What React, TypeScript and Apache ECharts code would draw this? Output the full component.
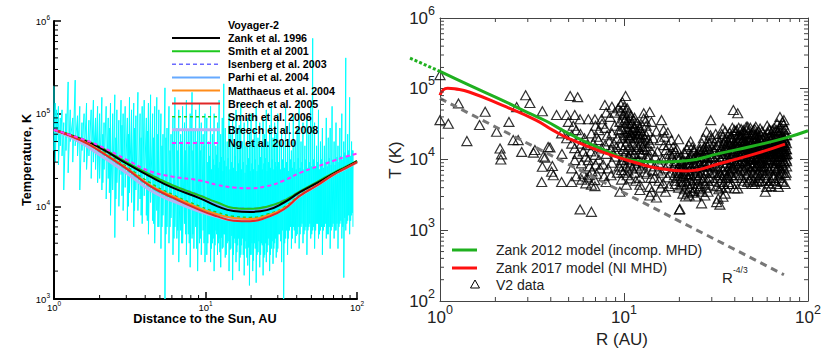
import React, { useEffect, useRef } from "react";
import * as echarts from "echarts";

// ---------------- Left panel data ----------------
// Voyager-2 temperature record: [R (AU), upper T (K), lower T (K)] per distance bin
const V2_BINS: number[][] = [
  [1.0, 2.0e5, 4.0e4], [1.02, 1.3e5, 3.0e4], [1.04, 1.1e5, 5.0e4], [1.07, 1.2e5, 2.8e4],
  [1.1, 9.0e4, 4.5e4], [1.13, 1.1e5, 3.5e4], [1.16, 8.0e4, 1.5e4], [1.2, 1.0e5, 4.0e4],
  [1.24, 2.2e5, 2.3e4], [1.28, 1.1e5, 5.0e4], [1.33, 9.0e4, 3.0e4], [1.38, 2.3e5, 4.5e4],
  [1.43, 9.5e4, 3.5e4], [1.48, 1.2e5, 1.5e4], [1.53, 8.0e4, 4.0e4], [1.58, 1.0e5, 3.0e4],
  [1.64, 1.3e5, 2.5e4], [1.7, 8.5e4, 3.5e4], [1.76, 1.1e5, 2.0e4], [1.82, 1.4e5, 3.0e4],
  [1.88, 9.0e4, 2.5e4], [1.94, 1.2e5, 1.8e4],
  [2.0, 1.0e5, 2.0e4], [2.07, 1.5e5, 1.5e4], [2.14, 8.0e4, 2.5e4], [2.21, 1.2e5, 1.2e4],
  [2.28, 9.0e4, 2.0e4], [2.36, 1.3e5, 8.0e3], [2.44, 1.0e5, 1.5e4], [2.52, 1.6e5, 4.6e3],
  [2.6, 1.1e5, 1.8e4], [2.68, 8.5e4, 1.0e4], [2.77, 1.4e5, 2.2e4], [2.86, 1.0e5, 9.0e3],
  [2.95, 1.2e5, 1.6e4], [3.05, 9.0e4, 7.0e3], [3.15, 1.5e5, 1.4e4], [3.25, 1.1e5, 1.1e4],
  [3.36, 1.3e5, 6.0e3], [3.47, 9.5e4, 1.5e4], [3.58, 1.7e5, 9.0e3], [3.7, 1.0e5, 1.2e4],
  [3.82, 1.2e5, 6.5e3], [3.94, 1.4e5, 1.3e4], [4.07, 9.0e4, 8.0e3], [4.2, 1.3e5, 5.0e3],
  [4.34, 1.6e5, 1.1e4], [4.48, 1.0e5, 7.0e3], [4.62, 1.2e5, 4.0e3], [4.77, 1.5e5, 9.0e3],
  [4.92, 1.1e5, 6.0e3],
  [5.08, 1.0e5, 3.5e3], [5.24, 6.0e4, 8.0e3], [5.4, 1.9e5, 1.0e3], [5.57, 7.0e4, 6.0e3],
  [5.74, 1.2e5, 4.0e3], [5.92, 6.0e4, 7.5e3], [6.1, 9.0e4, 3.0e3], [6.28, 1.5e5, 6.0e3],
  [6.47, 7.0e4, 4.5e3], [6.66, 1.1e5, 2.5e3], [6.86, 6.0e4, 5.5e3], [7.06, 1.2e5, 4.0e3],
  [7.27, 8.0e4, 6.5e3], [7.48, 1.4e5, 3.0e3], [7.7, 6.5e4, 5.0e3], [7.92, 1.0e5, 2.2e3],
  [8.15, 1.7e5, 4.5e3], [8.38, 7.0e4, 3.5e3], [8.62, 1.1e5, 6.0e3], [8.87, 6.5e4, 2.0e3],
  [9.12, 1.3e5, 4.0e3], [9.38, 8.0e4, 3.0e3], [9.65, 6.0e4, 5.5e3], [9.92, 1.0e5, 2.5e3],
  [10.2, 9.0e4, 3.0e3], [10.5, 5.0e4, 5.0e3], [10.8, 1.2e5, 2.5e3], [11.1, 6.0e4, 4.0e3],
  [11.4, 1.0e5, 2.0e3], [11.7, 4.5e4, 5.5e3], [12.0, 8.0e4, 3.0e3], [12.3, 1.4e5, 4.5e3],
  [12.6, 6.0e4, 2.2e3], [12.9, 9.0e4, 3.5e3], [13.2, 2.1e5, 5.0e3], [13.5, 7.0e4, 2.8e3],
  [13.9, 5.0e4, 4.0e3], [14.3, 1.0e5, 2.0e3], [14.7, 6.0e4, 3.5e3], [15.1, 8.5e4, 1.6e3],
  [15.5, 4.5e4, 4.5e3], [15.9, 1.1e5, 2.5e3], [16.3, 6.0e4, 3.8e3], [16.7, 7.5e4, 2.0e3],
  [17.1, 1.3e5, 3.0e3], [17.5, 5.0e4, 4.5e3], [18.0, 8.0e4, 1.8e3], [18.5, 4.5e4, 3.5e3],
  [19.0, 9.0e4, 2.3e3], [19.5, 6.0e4, 1.4e3], [20.0, 1.0e5, 3.0e3], [20.5, 5.0e4, 2.0e3],
  [21.0, 7.0e4, 4.0e3], [21.6, 1.2e5, 1.5e3], [22.2, 5.5e4, 3.2e3], [22.8, 8.0e4, 2.2e3],
  [23.4, 4.5e4, 4.0e3], [24.0, 9.0e4, 1.8e3], [24.6, 6.0e4, 3.0e3], [25.2, 1.1e5, 2.5e3],
  [25.8, 5.0e4, 3.8e3], [26.5, 7.5e4, 2.0e3], [27.2, 1.3e5, 3.5e3], [27.9, 5.5e4, 2.4e3],
  [28.6, 8.0e4, 4.0e3], [29.3, 6.0e4, 2.8e3],
  [30.0, 1.0e5, 3.5e3], [30.9, 5.0e4, 5.0e3], [31.8, 7.0e4, 2.5e3], [32.8, 4.5e4, 1.0e3],
  [33.8, 1.2e5, 4.5e3], [34.8, 5.0e4, 3.0e3], [35.8, 8.0e4, 5.5e3], [36.9, 4.0e4, 3.5e3],
  [38.0, 1.0e5, 6.0e3], [39.1, 5.0e4, 4.0e3], [40.3, 7.0e4, 5.0e3], [41.5, 1.4e5, 3.5e3],
  [42.7, 5.0e4, 6.0e3], [44.0, 8.0e4, 4.0e3], [45.3, 4.5e4, 5.5e3], [46.7, 9.0e4, 3.0e3],
  [48.1, 6.0e4, 6.0e3], [49.5, 1.2e5, 4.5e3], [51.0, 6.5e5, 5.5e3], [52.5, 8.0e4, 3.5e3],
  [54.1, 4.5e4, 6.5e3], [55.7, 1.1e5, 4.5e3], [57.4, 5.0e4, 5.5e3], [59.1, 7.0e4, 3.0e3],
  [60.9, 4.5e4, 6.0e3], [62.7, 9.0e4, 4.5e3], [64.6, 5.5e4, 5.0e3], [66.5, 7.0e4, 3.5e3],
  [68.5, 1.2e5, 6.0e3], [70.6, 5.0e4, 4.5e3], [72.7, 8.0e4, 5.5e3], [74.9, 4.5e4, 3.5e3],
  [77.1, 7.0e4, 6.5e3], [79.4, 1.0e5, 4.5e3], [81.8, 5.0e4, 1.7e3], [84.3, 4.0e5, 5.5e3],
  [86.8, 6.0e4, 7.0e3], [89.4, 1.5e5, 5.0e3], [92.1, 5.0e4, 8.0e3], [94.0, 4.0e4, 6.0e3],
];
// further Voyager-2 bins (the dense core of the record)
const V2_BINS_CORE: number[][] = [
  [2.1, 6.0e4, 1.8e4], [2.32, 7.0e4, 1.4e4], [2.56, 5.5e4, 1.2e4], [2.81, 7.5e4, 1.3e4],
  [3.1, 6.0e4, 1.0e4], [3.4, 7.0e4, 9.0e3], [3.76, 5.5e4, 8.0e3], [4.13, 6.5e4, 7.0e3],
  [4.55, 5.5e4, 6.5e3], [4.85, 6.0e4, 6.0e3],
  [5.16, 4.5e4, 6.0e3], [5.48, 5.5e4, 5.0e3], [5.83, 4.0e4, 6.0e3], [6.19, 5.0e4, 4.5e3],
  [6.56, 4.0e4, 5.5e3], [6.96, 5.0e4, 4.0e3], [7.38, 4.0e4, 5.0e3], [7.81, 4.5e4, 4.0e3],
  [8.26, 4.0e4, 5.0e3], [8.74, 5.0e4, 3.5e3], [9.25, 4.0e4, 4.5e3], [9.78, 4.5e4, 4.0e3],
  [10.35, 3.0e4, 4.0e3], [10.65, 3.5e4, 5.0e3], [10.95, 2.5e4, 3.5e3], [11.25, 3.2e4, 4.5e3],
  [11.55, 2.8e4, 3.8e3], [11.85, 3.6e4, 5.0e3], [12.15, 2.6e4, 4.0e3], [12.45, 3.0e4, 3.2e3],
  [12.75, 3.4e4, 4.6e3], [13.05, 2.4e4, 3.6e3], [13.35, 3.1e4, 5.0e3], [13.7, 2.7e4, 3.0e3],
  [14.1, 3.3e4, 4.2e3], [14.5, 2.5e4, 3.4e3], [14.9, 3.0e4, 4.8e3], [15.3, 2.6e4, 3.0e3],
  [15.7, 3.5e4, 4.0e3], [16.1, 2.4e4, 3.2e3], [16.5, 2.9e4, 4.5e3], [16.9, 3.2e4, 2.8e3],
  [17.3, 2.5e4, 3.8e3], [17.75, 3.0e4, 3.0e3], [18.25, 2.3e4, 4.2e3], [18.75, 2.8e4, 2.8e3],
  [19.25, 3.3e4, 3.6e3], [19.75, 2.4e4, 3.0e3], [20.25, 2.9e4, 4.0e3], [20.75, 2.5e4, 2.6e3],
  [21.3, 3.2e4, 3.5e3], [21.9, 2.4e4, 3.0e3], [22.5, 2.8e4, 4.2e3], [23.1, 3.4e4, 3.0e3],
  [23.7, 2.5e4, 3.8e3], [24.3, 2.9e4, 2.8e3], [24.9, 3.3e4, 4.0e3], [25.5, 2.4e4, 3.2e3],
  [26.15, 3.0e4, 4.5e3], [26.85, 2.6e4, 3.0e3], [27.55, 3.2e4, 4.2e3], [28.25, 2.5e4, 3.5e3],
  [28.95, 3.0e4, 4.5e3], [29.65, 2.7e4, 3.2e3],
  [30.45, 3.0e4, 5.0e3], [31.35, 2.5e4, 4.2e3], [32.3, 3.2e4, 5.5e3], [33.3, 2.6e4, 4.0e3],
  [34.3, 3.0e4, 5.5e3], [35.3, 2.4e4, 4.5e3], [36.35, 3.2e4, 6.0e3], [37.45, 2.6e4, 4.5e3],
  [38.55, 3.0e4, 5.5e3], [39.7, 2.5e4, 4.8e3], [40.9, 3.3e4, 6.0e3], [42.1, 2.6e4, 5.0e3],
  [43.35, 3.0e4, 6.5e3], [44.65, 2.5e4, 5.0e3], [46.0, 3.2e4, 6.0e3], [47.4, 2.6e4, 5.5e3],
  [48.8, 3.0e4, 6.5e3], [50.25, 2.7e4, 5.0e3], [51.75, 3.2e4, 6.0e3], [53.3, 2.6e4, 5.5e3],
  [54.9, 3.0e4, 6.5e3], [56.55, 2.5e4, 5.0e3], [58.25, 3.2e4, 6.0e3], [60.0, 2.6e4, 5.5e3],
  [61.8, 3.0e4, 6.5e3], [63.65, 2.7e4, 5.0e3], [65.55, 3.3e4, 6.0e3], [67.5, 2.8e4, 5.5e3],
  [69.55, 3.2e4, 6.5e3], [71.65, 2.8e4, 5.5e3], [73.8, 3.4e4, 6.5e3], [76.0, 3.0e4, 6.0e3],
  [78.25, 3.5e4, 7.0e3], [80.6, 3.2e4, 6.0e3], [83.05, 3.8e4, 7.5e3], [85.55, 3.4e4, 6.5e3],
  [88.1, 4.0e4, 8.0e3], [90.75, 3.5e4, 7.0e3], [93.0, 4.0e4, 8.5e3],
];

const MODEL_R = [1, 1.5, 2, 3, 4.3, 6, 9.2, 12, 15.3, 19.7, 25.4, 33, 42, 55, 70, 85, 100];
const ZANK_1996 = [6.7e4, 5.3e4, 4.3e4, 2.9e4, 2.1e4, 1.6e4, 1.22e4, 1.0e4, 8.9e3, 8.7e3, 9.1e3, 1.1e4, 1.42e4, 1.8e4, 2.25e4, 2.65e4, 3.05e4];
const SMITH_2001 = [6.7e4, 5.4e4, 4.4e4, 3.0e4, 2.2e4, 1.7e4, 1.3e4, 1.1e4, 9.6e3, 9.4e3, 9.9e3, 1.15e4, 1.45e4, 1.85e4, 2.3e4, 2.7e4, 3.1e4];
const ISENBERG_2003 = [6.7e4, 5.4e4, 4.4e4, 3.0e4, 2.25e4, 1.72e4, 1.32e4, 1.1e4, 9.7e3, 9.5e3, 1.0e4, 1.17e4, 1.46e4, 1.85e4, 2.3e4, 2.7e4, 3.1e4];
const PARHI_2004 = [6.7e4, 5.35e4, 4.35e4, 2.95e4, 2.15e4, 1.65e4, 1.25e4, 1.05e4, 9.2e3, 9.0e3, 9.5e3, 1.12e4, 1.43e4, 1.82e4, 2.28e4, 2.68e4, 3.08e4];
const MATTHAEUS_2004 = [6.7e4, 5.2e4, 4.0e4, 2.6e4, 1.7e4, 1.3e4, 9.5e3, 8.2e3, 7.5e3, 7.3e3, 7.9e3, 9.5e3, 1.3e4, 1.7e4, 2.2e4, 2.6e4, 3.0e4];
const BREECH_2005 = [6.7e4, 5.15e4, 3.95e4, 2.55e4, 1.65e4, 1.25e4, 9.1e3, 7.8e3, 7.0e3, 6.9e3, 7.6e3, 9.3e3, 1.3e4, 1.7e4, 2.2e4, 2.6e4, 3.0e4];
const SMITH_2006 = [6.7e4, 5.2e4, 4.1e4, 2.7e4, 1.8e4, 1.35e4, 1.0e4, 8.6e3, 7.8e3, 7.6e3, 8.2e3, 9.8e3, 1.33e4, 1.72e4, 2.2e4, 2.6e4, 3.0e4];
const BREECH_2008 = [6.7e4, 4.9e4, 3.6e4, 2.3e4, 1.5e4, 1.15e4, 8.8e3, 7.7e3, 7.1e3, 7.0e3, 7.7e3, 9.4e3, 1.3e4, 1.7e4, 2.2e4, 2.6e4, 3.0e4];
const NG_2010 = [6.7e4, 5.4e4, 4.5e4, 3.2e4, 2.4e4, 2.1e4, 1.9e4, 1.7e4, 1.6e4, 1.57e4, 1.65e4, 1.9e4, 2.3e4, 2.7e4, 3.1e4, 3.45e4, 3.7e4];

const LEFT_NAMES = [
  "Zank et al. 1996", "Smith et al 2001", "Isenberg et al. 2003", "Parhi et al. 2004",
  "Matthaeus et al. 2004", "Breech et al. 2005", "Smith et al. 2006", "Breech et al. 2008", "Ng et al. 2010",
];
const LEFT_MODELS = [ZANK_1996, SMITH_2001, ISENBERG_2003, PARHI_2004, MATTHAEUS_2004, BREECH_2005, SMITH_2006, BREECH_2008, NG_2010];

// ---------------- Right panel data ----------------
const V2_POINTS: number[][] = [
  [1.0, 1.56e5], [1.0, 3.6e4], [1.11, 3.2e4], [1.26, 6.2e4], [1.4, 1.82e4], [1.64, 3.07e4], [1.76, 4.73e4],
  [2.03, 2.47e4], [2.12, 1.43e4], [2.16, 1.18e4], [2.14, 1.0e4], [2.37, 3.4e4], [2.5, 1.88e4], [2.66, 1.88e4],
  [2.78, 1.28e4], [2.92, 8.1e4], [3.08, 6.3e4], [2.61, 5.5e4], [3.22, 1.25e4], [3.28, 1.36e4], [3.6, 4.8e4],
  [3.72, 1.06e4], [3.96, 1.48e4], [4.08, 8.1e3], [4.04, 6.7e3], [4.13, 6.0e3], [4.3, 4.25e4], [3.57, 4.8e3],
  [4.58, 4.8e3], [5.2, 4.8e3], [5.1, 7.9e4], [5.6, 7.6e4], [4.88, 4.25e4], [5.4, 4.25e4], [5.77, 3.7e4],
  [4.98, 3.4e4], [6.4, 3.7e4], [6.95, 3.7e4], [7.55, 3.7e4], [7.87, 5.9e4], [8.6, 5.56e4], [9.3, 5.3e4],
  [10.2, 7.9e4], [4.58, 2.34e4], [4.88, 2.0e4], [5.2, 2.2e4], [5.87, 1.68e4], [6.65, 2.34e4], [7.27, 1.88e4],
  [7.55, 1.43e4], [6.95, 1.16e4], [6.4, 9.8e3], [5.87, 8.8e3], [5.4, 9.8e3], [5.2, 7.5e3], [6.0, 6.3e3],
  [6.5, 6.0e3], [6.95, 5.1e3], [6.65, 4.4e3], [6.95, 4.2e3], [5.77, 1.97e3], [6.65, 1.82e3], [9.5, 3.5e3],
  [9.7, 5.2e3], [10.3, 4.4e3], [9.7, 9.8e3], [9.1, 1.5e4], [8.6, 2.34e4], [10.6, 2.1e4], [10.1, 3.6e4],
  [11.0, 1.36e4], [9.7, 7.1e3], [3.64, 1.1e4], [3.87, 1.5e4], [3.6, 7.9e3], [4.6, 1.2e4], [5.2, 1.68e4],
  [5.3, 3.0e4], [5.5, 2.6e4], [5.8, 2.3e4], [6.1, 2.0e4], [6.3, 1.6e4], [6.0, 1.3e4], [6.6, 1.3e4],
  [6.8, 1.7e4], [7.1, 2.1e4], [7.3, 2.6e4], [7.0, 3.0e4], [7.6, 3.2e4], [7.9, 2.8e4], [8.1, 2.2e4],
  [8.3, 1.8e4], [7.9, 1.6e4], [8.5, 1.4e4], [8.0, 1.2e4], [7.3, 1.0e4], [7.7, 8.5e3], [8.2, 7.5e3],
  [8.6, 9.0e3], [8.9, 1.1e4], [9.0, 1.3e4], [8.8, 1.7e4], [9.2, 2.0e4], [9.4, 2.6e4], [8.9, 3.0e4],
  [9.5, 3.4e4], [8.4, 4.0e4], [8.0, 4.6e4], [8.9, 4.6e4], [9.6, 4.9e4], [9.9, 4.3e4], [5.5, 5.8e3],
  [5.9, 5.2e3], [6.2, 4.6e3], [6.3, 5.6e3], [6.7, 6.8e3], [7.1, 6.3e3], [7.4, 7.5e3], [7.0, 8.5e3],
  [6.5, 8.0e3], [6.2, 1.1e4], [5.6, 1.2e4], [5.4, 1.45e4], [7.8, 5.8e3], [8.0, 4.8e3], [8.5, 6.0e3],
  [9.2, 6.5e3], [9.4, 8.0e3],
  [9.6, 6.0e4], [9.8, 6.5e4], [10.0, 5.5e4], [10.4, 5.3e4], [10.1, 4.5e4], [10.6, 4.6e4], [9.9, 3.8e4],
  [10.3, 3.3e4], [10.8, 3.8e4], [11.0, 3.2e4], [11.3, 2.9e4], [10.5, 2.7e4], [10.0, 2.4e4], [9.8, 2.0e4],
  [10.4, 1.8e4], [10.9, 2.4e4], [11.5, 2.4e4], [11.8, 2.0e4], [11.2, 1.7e4], [10.7, 1.5e4], [10.2, 1.3e4],
  [10.0, 1.1e4], [10.6, 1.1e4], [11.4, 1.2e4], [12.0, 1.5e4], [12.4, 1.8e4], [12.6, 2.3e4], [12.2, 2.8e4],
  [11.8, 3.3e4], [12.8, 3.8e4], [13.2, 3.0e4], [13.5, 2.5e4], [13.0, 2.0e4], [13.8, 1.7e4], [13.3, 1.36e4],
  [12.5, 1.2e4], [12.0, 1.0e4], [11.5, 9.0e3], [10.8, 8.5e3], [10.3, 8.0e3], [11.7, 8.0e3], [12.3, 7.5e3],
  [13.0, 9.0e3], [13.6, 1.1e4], [14.1, 1.3e4], [14.4, 2.0e4], [14.1, 3.4e4], [13.8, 4.7e4], [12.8, 4.5e4],
  [10.4, 6.0e3], [10.8, 5.4e3], [11.4, 6.5e3], [12.2, 5.5e3], [12.9, 6.6e3], [13.3, 6.3e3], [12.2, 4.4e3],
  [13.8, 4.1e3], [14.1, 3.5e3], [12.2, 3.7e3], [13.8, 3.1e3], [15.0, 2.9e3],
  [9.6, 1.6e4], [9.9, 1.4e4], [10.2, 1.6e4], [10.5, 2.2e4], [10.8, 2.0e4], [11.1, 2.6e4], [11.4, 2.0e4],
  [11.7, 1.6e4], [12.0, 2.2e4], [12.3, 2.5e4], [12.6, 1.5e4], [12.9, 1.7e4], [13.2, 2.2e4], [13.5, 1.9e4],
  [10.1, 2.9e4], [10.7, 3.2e4], [11.3, 3.6e4], [11.9, 2.6e4], [12.5, 3.1e4], [13.1, 3.5e4], [10.4, 1.0e4],
  [10.9, 1.2e4], [11.6, 1.4e4], [12.2, 1.25e4], [12.8, 1.4e4], [13.4, 1.55e4], [9.8, 9.0e3], [10.5, 7.0e3],
  [11.1, 7.5e3], [11.9, 9.5e3], [12.6, 8.5e3], [13.2, 1.1e4], [13.9, 9.0e3], [14.3, 7.0e3], [14.0, 5.5e3],
  [11.0, 1.0e4], [11.6, 5.0e3], [9.9, 6.5e3],
  [15.0, 2.5e4], [15.7, 1.88e4], [16.0, 3.6e4], [16.4, 2.6e4], [16.9, 1.36e4], [14.8, 1.1e4], [15.4, 9.0e3],
  [16.2, 1.0e4], [17.0, 1.1e4], [15.3, 7.0e3], [16.0, 6.5e3], [16.8, 7.5e3], [17.5, 9.0e3], [17.8, 1.2e4],
  [18.1, 1.88e4], [17.4, 1.6e4], [14.6, 5.5e3], [15.5, 5.0e3], [16.3, 4.6e3], [17.2, 5.6e3], [17.9, 6.5e3],
  [15.8, 4.0e3], [16.8, 3.5e3], [17.6, 4.2e3], [14.6, 8.0e3], [15.2, 1.3e4], [16.5, 1.6e4], [16.6, 2.1e4],
  [17.3, 2.4e4],
  [18.5, 1.5e4], [19.0, 1.3e4], [19.8, 1.93e4], [19.5, 1.1e4], [18.8, 9.5e3], [20.2, 9.0e3], [21.0, 1.0e4],
  [21.5, 1.2e4], [22.0, 1.4e4], [22.5, 1.6e4], [23.0, 1.8e4], [23.5, 1.5e4], [24.0, 1.3e4], [24.5, 1.1e4],
  [25.0, 1.0e4], [25.5, 1.2e4], [26.0, 1.4e4], [26.5, 1.7e4], [27.0, 2.0e4], [27.5, 1.5e4], [28.1, 2.47e4],
  [28.5, 1.8e4], [29.0, 1.4e4], [29.6, 3.6e4], [29.5, 2.2e4], [18.6, 8.0e3], [19.3, 7.0e3], [20.0, 6.5e3],
  [20.6, 7.5e3], [21.2, 8.0e3], [21.9, 8.5e3], [22.6, 7.0e3], [23.3, 8.0e3], [24.0, 9.0e3], [24.8, 7.5e3],
  [25.6, 8.5e3], [26.4, 9.5e3], [27.2, 1.1e4], [28.0, 1.2e4], [28.8, 9.0e3], [29.4, 1.1e4], [18.8, 6.0e3],
  [19.5, 5.5e3], [20.3, 5.0e3], [21.0, 5.8e3], [21.7, 6.2e3], [22.4, 5.5e3], [23.1, 6.0e3], [23.8, 5.2e3],
  [24.6, 6.0e3], [25.4, 5.5e3], [26.2, 6.5e3], [27.0, 7.0e3], [27.8, 6.5e3], [28.6, 7.0e3], [29.4, 6.5e3],
  [19.0, 4.5e3], [19.8, 4.0e3], [20.5, 4.3e3], [21.3, 3.8e3], [22.0, 4.5e3], [22.8, 4.0e3], [23.5, 4.6e3],
  [24.3, 4.0e3], [25.2, 4.5e3], [26.0, 4.2e3], [26.8, 5.0e3], [27.6, 4.6e3], [28.5, 5.0e3], [29.3, 4.4e3],
  [20.1, 2.0e3], [20.9, 3.3e3], [21.6, 3.0e3], [22.6, 3.1e3], [23.6, 3.4e3], [24.6, 3.0e3], [26.4, 2.4e3],
  [27.5, 3.1e3], [28.6, 3.5e3], [20.0, 1.95e3], [24.0, 3.6e3], [25.5, 3.8e3],
  [18.3, 1.1e4], [19.1, 9.0e3], [19.9, 8.0e3], [20.7, 9.5e3], [21.5, 7.0e3], [22.3, 1.0e4], [23.1, 1.2e4],
  [23.9, 1.05e4], [24.7, 9.0e3], [25.3, 1.1e4], [26.1, 1.2e4], [26.9, 1.4e4], [27.6, 1.3e4], [28.4, 1.55e4],
  [29.2, 1.7e4], [18.9, 5.0e3], [19.6, 6.5e3], [20.4, 5.8e3], [21.1, 6.8e3], [21.8, 5.0e3], [22.6, 6.2e3],
  [23.4, 7.0e3], [24.2, 6.5e3], [25.0, 7.0e3], [25.8, 6.0e3], [26.7, 8.0e3], [27.5, 8.5e3], [28.3, 8.0e3],
  [29.1, 8.5e3], [20.8, 4.8e3], [23.0, 5.0e3], [25.0, 5.2e3], [27.2, 5.5e3], [29.0, 5.5e3], [22.2, 3.5e3],
  [26.5, 3.5e3], [28.0, 4.0e3],
  [30.0, 2.0e4], [30.5, 1.6e4], [31.0, 1.3e4], [31.5, 1.1e4], [32.0, 9.0e3], [32.5, 7.5e3], [33.0, 6.5e3],
  [33.5, 1.0e4], [34.0, 1.4e4], [34.5, 2.75e4], [34.5, 2.1e4], [35.0, 1.7e4], [35.5, 1.2e4], [36.0, 9.0e3],
  [36.5, 7.0e3], [37.0, 5.5e3], [37.5, 8.0e3], [38.0, 1.1e4], [38.5, 1.5e4], [39.0, 1.9e4], [39.5, 2.3e4],
  [40.0, 1.6e4], [30.3, 8.0e3], [31.2, 6.5e3], [32.2, 5.5e3], [33.2, 4.8e3], [34.2, 5.5e3], [35.2, 6.5e3],
  [36.2, 5.5e3], [37.2, 4.5e3], [38.2, 6.0e3], [39.2, 7.5e3], [30.8, 5.0e3], [31.8, 4.2e3], [32.8, 3.8e3],
  [33.8, 4.0e3], [34.8, 4.5e3], [35.8, 4.0e3], [36.8, 4.8e3], [31.9, 2.5e3], [33.2, 2.3e3], [34.5, 2.97e3],
  [32.5, 2.8e3], [35.5, 3.3e3], [39.9, 3.9e3], [38.5, 4.5e3], [39.5, 5.5e3], [37.8, 1.3e4], [36.6, 1.5e4],
  [33.0, 1.8e4], [31.5, 2.3e4], [36.0, 2.0e4], [37.5, 2.4e4], [38.8, 2.8e4], [39.3, 5.0e4],
  [30.2, 1.1e4], [30.7, 1.35e4], [31.3, 9.5e3], [31.7, 1.5e4], [32.3, 1.2e4], [32.7, 1.6e4], [33.3, 1.3e4],
  [33.7, 8.0e3], [34.3, 1.1e4], [34.7, 1.7e4], [35.3, 1.4e4], [35.7, 1.0e4], [36.3, 1.2e4], [36.7, 1.8e4],
  [37.3, 1.0e4], [37.7, 6.5e3], [38.3, 8.5e3], [38.7, 1.2e4], [39.3, 1.4e4], [39.7, 1.0e4], [30.5, 6.5e3],
  [31.5, 8.0e3], [32.5, 6.0e3], [33.5, 6.0e3], [34.5, 7.0e3], [35.5, 8.0e3], [36.5, 6.0e3], [37.5, 7.0e3],
  [38.5, 7.5e3], [39.5, 8.5e3], [32.0, 2.0e4], [34.0, 2.3e4], [35.5, 2.5e4], [38.0, 2.1e4], [39.8, 2.6e4],
  [41.5, 4.5e4], [41.5, 3.9e3], [40.5, 2.5e4], [41.0, 2.0e4], [41.5, 1.5e4], [42.0, 1.2e4], [42.5, 9.0e3],
  [43.0, 7.0e3], [43.5, 5.5e3], [44.0, 8.0e3], [44.5, 1.1e4], [45.0, 1.4e4], [45.5, 1.8e4], [46.0, 2.2e4],
  [46.5, 2.6e4], [47.0, 2.9e4], [47.5, 2.4e4], [48.0, 2.0e4], [48.5, 1.6e4], [49.0, 1.3e4], [49.5, 1.0e4],
  [50.0, 8.0e3], [50.5, 6.5e3], [51.0, 5.0e3], [51.5, 7.5e3], [52.0, 1.0e4], [52.5, 1.3e4], [53.0, 1.7e4],
  [53.5, 2.1e4], [54.0, 2.5e4], [54.9, 2.75e4], [55.5, 2.2e4], [56.0, 1.8e4], [56.5, 1.4e4], [57.0, 1.1e4],
  [40.3, 1.1e4], [40.8, 8.5e3], [41.3, 6.5e3], [42.3, 1.6e4], [42.8, 2.2e4], [43.3, 2.7e4], [43.8, 2.3e4],
  [44.3, 1.9e4], [44.8, 1.5e4], [45.3, 9.5e3], [45.8, 7.5e3], [46.3, 6.0e3], [46.8, 8.5e3], [47.3, 1.1e4],
  [47.8, 1.3e4], [48.3, 9.0e3], [48.8, 7.0e3], [49.3, 5.5e3], [49.8, 1.5e4], [50.3, 1.9e4], [50.8, 2.3e4],
  [51.3, 2.7e4], [51.8, 2.2e4], [52.3, 1.6e4], [52.8, 8.5e3], [53.3, 6.5e3], [53.8, 5.5e3], [54.3, 7.0e3],
  [54.8, 9.0e3], [55.3, 1.2e4], [55.8, 1.5e4], [56.3, 2.5e4], [56.8, 7.0e3], [44.0, 4.5e3], [47.0, 4.8e3],
  [50.0, 4.5e3], [53.0, 4.8e3], [56.0, 5.0e3], [42.0, 2.8e4], [45.0, 2.4e4], [48.6, 2.8e4], [52.0, 2.9e4],
  [55.0, 1.9e4],
  [40.2, 1.4e4], [40.7, 1.7e4], [41.2, 9.5e3], [41.7, 1.3e4], [42.2, 1.9e4], [42.7, 1.1e4], [43.2, 1.4e4],
  [43.7, 1.8e4], [44.2, 1.3e4], [44.7, 2.0e4], [45.2, 1.7e4], [45.7, 1.2e4], [46.2, 1.6e4], [46.7, 1.3e4],
  [47.2, 1.8e4], [47.7, 1.5e4], [48.2, 1.2e4], [48.7, 1.9e4], [49.2, 1.7e4], [49.7, 1.2e4], [50.2, 1.4e4],
  [50.7, 1.1e4], [51.2, 1.4e4], [51.7, 1.8e4], [52.2, 2.0e4], [52.7, 1.7e4], [53.2, 1.3e4], [53.7, 1.0e4],
  [54.2, 1.3e4], [54.7, 1.6e4], [55.2, 1.5e4], [55.7, 1.2e4], [56.2, 9.5e3], [56.7, 1.2e4], [40.6, 6.0e3],
  [41.8, 8.0e3], [42.8, 6.0e3], [43.8, 1.0e4], [44.8, 7.0e3], [45.8, 9.5e3], [46.8, 6.5e3], [47.8, 8.0e3],
  [48.8, 1.0e4], [49.8, 8.0e3], [50.8, 9.0e3], [51.8, 6.0e3], [52.8, 1.1e4], [53.8, 8.5e3], [54.8, 6.0e3],
  [55.8, 8.0e3], [41.0, 2.6e4], [43.0, 2.0e4], [44.5, 2.6e4], [46.2, 2.9e4], [47.5, 2.1e4], [49.5, 2.3e4],
  [50.5, 2.6e4], [53.0, 2.4e4], [54.5, 2.0e4], [56.5, 2.0e4], [45.0, 5.0e3], [48.0, 5.2e3], [51.5, 4.5e3],
  [54.5, 5.0e3],
  [57.5, 8.0e3], [58.0, 6.0e3], [58.6, 3.5e3], [59.6, 4.1e3], [60.0, 5.5e3], [60.5, 7.5e3], [61.0, 1.0e4],
  [61.5, 1.3e4], [62.0, 1.6e4], [62.5, 1.9e4], [63.0, 2.2e4], [63.5, 1.8e4], [64.0, 1.5e4], [64.5, 1.2e4],
  [65.0, 9.5e3], [65.5, 7.5e3], [66.0, 6.0e3], [66.5, 5.0e3], [67.0, 7.0e3], [67.5, 9.0e3], [68.0, 1.2e4],
  [68.5, 1.5e4], [69.0, 1.9e4], [69.5, 2.3e4], [70.4, 4.0e4], [70.4, 6.3e3], [69.0, 4.1e3], [70.0, 2.8e4],
  [71.0, 2.4e4], [71.5, 1.8e4], [72.0, 1.4e4], [72.5, 1.1e4], [73.0, 8.5e3], [73.6, 3.1e4], [74.0, 2.6e4],
  [74.5, 2.0e4], [75.0, 1.6e4], [75.5, 1.2e4], [76.0, 1.0e4], [76.5, 8.0e3], [73.5, 6.5e3], [72.0, 5.0e3],
  [58.5, 1.2e4], [59.0, 1.6e4], [59.5, 2.0e4], [60.5, 2.4e4], [61.5, 2.7e4], [66.0, 2.5e4], [67.0, 2.1e4],
  [64.0, 2.6e4], [58.0, 2.1e4], [61.0, 4.6e3], [63.0, 5.0e3], [64.5, 6.0e3], [67.5, 4.5e3], [75.5, 6.0e3],
  [71.0, 7.0e3], [74.5, 1.3e4], [68.0, 3.2e4], [72.5, 3.4e4],
  [57.2, 1.4e4], [57.8, 1.7e4], [58.3, 9.0e3], [58.8, 1.4e4], [59.3, 1.1e4], [59.8, 8.0e3], [60.3, 1.2e4],
  [60.8, 1.5e4], [61.3, 1.8e4], [61.8, 2.1e4], [62.3, 1.3e4], [62.8, 1.0e4], [63.3, 1.4e4], [63.8, 1.2e4],
  [64.3, 1.8e4], [64.8, 2.2e4], [65.3, 1.6e4], [65.8, 1.1e4], [66.3, 1.4e4], [66.8, 1.7e4], [67.3, 1.3e4],
  [67.8, 1.0e4], [68.3, 1.7e4], [68.8, 2.5e4], [69.3, 1.4e4], [69.8, 1.1e4], [70.3, 1.6e4], [70.8, 2.0e4],
  [71.3, 1.3e4], [71.8, 9.0e3], [72.3, 1.7e4], [72.8, 2.1e4], [73.3, 1.5e4], [73.8, 1.2e4], [74.3, 9.5e3],
  [74.8, 1.8e4], [75.3, 2.2e4], [75.8, 1.4e4], [76.3, 1.7e4], [76.8, 1.2e4], [58.0, 7.0e3], [60.0, 6.5e3],
  [62.0, 7.0e3], [64.0, 8.5e3], [66.0, 8.0e3], [68.0, 7.5e3], [70.0, 8.0e3], [72.0, 6.5e3], [74.0, 7.5e3],
  [76.0, 6.5e3], [59.0, 5.0e3], [63.0, 4.2e3], [65.0, 5.5e3], [69.5, 5.5e3], [73.0, 4.8e3], [75.0, 4.5e3],
  [62.0, 2.6e4], [65.5, 2.8e4], [67.5, 2.6e4], [71.0, 2.9e4], [75.5, 2.7e4], [76.5, 2.2e4], [60.0, 3.0e4],
  [74.0, 3.6e4],
];
// further V2 points in the densest part of the record
const V2_POINTS_CORE: number[][] = [
  [35.2, 1.9e4], [35.8, 1.55e4], [36.4, 1.35e4], [37.0, 1.65e4], [37.6, 2.0e4], [38.2, 1.75e4], [38.8, 1.55e4],
  [39.4, 1.2e4], [40.0, 1.3e4], [40.6, 1.55e4], [41.2, 1.8e4], [41.8, 2.2e4], [42.4, 1.4e4], [43.0, 1.15e4],
  [43.6, 1.3e4], [44.2, 1.6e4], [44.8, 1.75e4], [45.4, 1.55e4], [46.0, 1.1e4], [46.6, 1.45e4], [47.2, 1.6e4],
  [47.8, 1.85e4], [48.4, 1.4e4], [49.0, 1.1e4], [49.6, 1.35e4], [50.2, 1.6e4], [50.8, 1.3e4], [51.4, 1.15e4],
  [52.0, 1.45e4], [52.6, 1.9e4], [53.2, 1.55e4], [53.8, 1.2e4], [54.4, 1.45e4], [55.0, 1.25e4], [55.6, 1.0e4],
  [56.2, 1.2e4], [36.0, 1.0e4], [38.0, 9.0e3], [40.0, 9.0e3], [42.0, 9.5e3], [44.0, 1.2e4], [46.0, 8.5e3],
  [48.0, 1.05e4], [50.0, 1.0e4], [52.0, 8.0e3], [54.0, 1.05e4], [56.0, 9.0e3],
  [57.5, 1.2e4], [58.2, 1.5e4], [58.9, 1.8e4], [59.6, 1.3e4], [60.3, 1.0e4], [61.0, 1.4e4], [61.7, 1.7e4],
  [62.4, 1.15e4], [63.1, 1.6e4], [63.8, 2.0e4], [64.5, 1.45e4], [65.2, 1.2e4], [65.9, 1.8e4], [66.6, 1.55e4],
  [67.3, 1.1e4], [68.0, 1.4e4], [68.7, 1.2e4], [69.4, 1.65e4], [70.1, 1.25e4], [70.8, 1.5e4], [71.5, 1.1e4],
  [72.2, 1.9e4], [72.9, 1.3e4], [73.6, 1.7e4], [74.3, 1.4e4], [75.0, 1.9e4], [75.7, 1.15e4], [76.4, 1.4e4],
  [60.5, 9.0e3], [64.0, 1.0e4], [67.0, 9.0e3], [70.5, 9.5e3], [74.0, 9.0e3], [76.5, 9.5e3],
  [18.5, 1.25e4], [19.4, 1.4e4], [20.3, 1.1e4], [21.2, 1.25e4], [22.1, 9.0e3], [23.0, 1.0e4], [23.9, 1.35e4],
  [24.8, 1.2e4], [25.7, 1.35e4], [26.6, 1.1e4], [27.5, 1.25e4], [28.4, 1.05e4], [29.3, 1.3e4], [19.0, 8.5e3],
  [20.8, 8.5e3], [22.7, 8.5e3], [24.5, 8.0e3], [26.3, 8.0e3], [28.0, 9.5e3],
  [9.7, 2.7e4], [10.2, 2.2e4], [10.6, 2.5e4], [11.0, 2.2e4], [11.5, 2.8e4], [11.9, 2.3e4], [12.4, 2.1e4],
  [10.3, 3.9e4], [10.9, 4.2e4], [11.4, 3.9e4],
];

const ZANK2012_R = [1, 1.5, 2.2, 3.0, 3.77, 5.05, 7.66, 11.6, 15.7, 21.9, 33.2, 50.4, 76.6, 100];
const ZANK2012_T = [1.76e5, 1.07e5, 6.8e4, 4.6e4, 3.5e4, 2.3e4, 1.39e4, 9.6e3, 9.2e3, 9.6e3, 1.22e4, 1.55e4, 2.04e4, 2.55e4];
const ZANK2012_EXT_R = [0.687, 1];
const ZANK2012_EXT_T = [2.7e5, 1.76e5];
const ZANK2017_R = [1, 1.04, 1.1, 1.2, 1.44, 2.19, 3.32, 4.1, 5.05, 7.66, 11.6, 15, 21.9, 33.2, 50.4, 75];
const ZANK2017_T = [8.1e4, 9.6e4, 1.02e5, 1.0e5, 9.0e4, 5.8e4, 3.6e4, 2.6e4, 1.96e4, 1.27e4, 9.0e3, 7.6e3, 6.9e3, 8.8e3, 1.18e4, 1.65e4];
const POWER_R = [1, 74];
const POWER_T = [7.3e4, 235];

const MINOR = [2, 3, 4, 5, 6, 7, 8, 9];

const FONT = "'Liberation Sans', Arial, Helvetica, sans-serif";

const zip = (xs: number[], ys: number[]) => xs.map((x, i) => [x, ys[i]]);
const minorValues = (decades: number[]) => decades.flatMap((d) => MINOR.map((m) => m * d));

function tickSeries(xi: number, yi: number, data: number[][], dx: number, dy: number, color: string, width: number) {
  return {
    type: "custom",
    xAxisIndex: xi,
    yAxisIndex: yi,
    silent: true,
    clip: false,
    z: 10,
    renderItem: (_p: any, api: any) => {
      const pt = api.coord([api.value(0), api.value(1)]);
      return {
        type: "line",
        shape: { x1: pt[0], y1: pt[1], x2: pt[0] + dx, y2: pt[1] + dy },
        style: { stroke: color, lineWidth: width },
      };
    },
    data,
  };
}

export default function App() {
  const ref = useRef<HTMLDivElement>(null);

  useEffect(() => {
    document.body.style.margin = "0";
    if (!ref.current) return;
    const chart = echarts.init(ref.current, undefined, { renderer: "svg" });

    const leftStyles = [
      { color: "#000000", width: 2, type: "solid" },
      { color: "#1ec81e", width: 2, type: "solid" },
      { color: "#6b6bff", width: 1.5, type: [4, 3] },
      { color: "#66aaff", width: 2, type: "solid" },
      { color: "#ff8c1a", width: 2, type: "solid" },
      { color: "#e02828", width: 2, type: "solid" },
      { color: "#22cc22", width: 1.5, type: [3, 3] },
      { color: "#b4b4f4", width: 3, type: "solid" },
      { color: "#ff33ff", width: 2, type: [4, 3] },
    ];
    const drawOrder = [7, 6, 3, 2, 1, 0, 4, 5, 8];

    const v2Line = [...V2_BINS, ...V2_BINS_CORE]
      .sort((a, b) => a[0] - b[0])
      .flatMap(([r, hi, lo]) => [[r, hi], [r, lo]]);

    const leftLabel = {
      formatter: (v: number) => `{b|10}{s|${Math.round(Math.log10(v))}}`,
      rich: {
        b: { fontSize: 9.5, lineHeight: 14, fontFamily: FONT, color: "#000" },
        s: { fontSize: 6.5, lineHeight: 7, verticalAlign: "top", fontFamily: FONT, color: "#000" },
      },
      showMinLabel: true,
      showMaxLabel: true,
    };
    const rightLabel = {
      formatter: (v: number) => `{b|10}{s|${Math.round(Math.log10(v))}}`,
      rich: {
        b: { fontSize: 17, lineHeight: 28, fontFamily: FONT, color: "#222" },
        s: { fontSize: 12.5, lineHeight: 12, verticalAlign: "top", fontFamily: FONT, color: "#222" },
      },
      showMinLabel: true,
      showMaxLabel: true,
    };

    const leftAxisLine = { show: true, lineStyle: { color: "#000", width: 2 } };
    const rightAxisLine = { show: true, lineStyle: { color: "#444", width: 1 } };

    const legendGraphics: any[] = [];
    const LX1 = 172, LX2 = 220, LTX = 228, LY0 = 25, LDY = 13.1;
    legendGraphics.push({
      type: "text", x: LTX, y: LY0, z: 20,
      style: { text: "Voyager-2", font: `bold 10.7px ${FONT}`, fill: "#000", verticalAlign: "middle", align: "left" },
    });
    LEFT_NAMES.forEach((name, i) => {
      const y = LY0 + LDY * (i + 1);
      const st = leftStyles[i];
      legendGraphics.push({
        type: "line",
        shape: { x1: LX1, y1: y, x2: LX2, y2: y },
        style: { stroke: st.color, lineWidth: st.width, lineDash: Array.isArray(st.type) ? st.type : null },
        z: 20,
      });
      legendGraphics.push({
        type: "text", x: LTX, y, z: 20,
        style: { text: name, font: `bold 10.7px ${FONT}`, fill: "#000", verticalAlign: "middle", align: "left" },
      });
    });

    const option: any = {
      animation: false,
      backgroundColor: "#ffffff",
      grid: [
        { left: 54, top: 21, width: 303, height: 278 },
        { left: 440, top: 18, width: 368, height: 283 },
      ],
      xAxis: [
        {
          type: "log", logBase: 10, min: 1, max: 100, gridIndex: 0, position: "bottom",
          axisLine: leftAxisLine,
          axisTick: { show: true, inside: true, length: 7, lineStyle: { color: "#000", width: 1.5 } },
          axisLabel: { ...leftLabel, margin: 1 },
          splitLine: { show: false },
        },
        {
          type: "log", logBase: 10, min: 1, max: 100, gridIndex: 1, position: "bottom",
          axisLine: rightAxisLine,
          axisTick: { show: true, inside: true, length: 8, lineStyle: { color: "#444", width: 1 } },
          axisLabel: { ...rightLabel, margin: 2 },
          splitLine: { show: false },
        },
        {
          type: "log", logBase: 10, min: 1, max: 100, gridIndex: 1, position: "top",
          axisLine: rightAxisLine,
          axisTick: { show: true, inside: true, length: 8, lineStyle: { color: "#444", width: 1 } },
          axisLabel: { show: false },
          splitLine: { show: false },
        },
      ],
      yAxis: [
        {
          type: "log", logBase: 10, min: 1e3, max: 1e6, gridIndex: 0, position: "left",
          axisLine: leftAxisLine,
          axisTick: { show: true, inside: true, length: 7, lineStyle: { color: "#000", width: 1.5 } },
          axisLabel: { ...leftLabel, margin: 4 },
          splitLine: { show: false },
        },
        {
          type: "log", logBase: 10, min: 1e2, max: 1e6, gridIndex: 1, position: "left",
          axisLine: rightAxisLine,
          axisTick: { show: true, inside: true, length: 8, lineStyle: { color: "#444", width: 1 } },
          axisLabel: { ...rightLabel, margin: 5 },
          splitLine: { show: false },
        },
        {
          type: "log", logBase: 10, min: 1e2, max: 1e6, gridIndex: 1, position: "right",
          axisLine: rightAxisLine,
          axisTick: { show: true, inside: true, length: 8, lineStyle: { color: "#444", width: 1 } },
          axisLabel: { show: false },
          splitLine: { show: false },
        },
      ],
      series: [
        {
          type: "line", xAxisIndex: 0, yAxisIndex: 0, symbol: "none", silent: true,
          data: v2Line,
          lineStyle: { color: "#00ffff", width: 1 },
          z: 1,
        },
        ...drawOrder.map((i) => ({
          type: "line", xAxisIndex: 0, yAxisIndex: 0, symbol: "none", smooth: true, silent: true,
          name: LEFT_NAMES[i],
          data: zip(MODEL_R, LEFT_MODELS[i]),
          lineStyle: { color: leftStyles[i].color, width: leftStyles[i].width, type: leftStyles[i].type },
          z: 3,
        })),
        tickSeries(0, 0, minorValues([1e3, 1e4, 1e5]).map((t) => [1, t]), 4, 0, "#000", 1),
        tickSeries(0, 0, minorValues([1, 10]).map((r) => [r, 1e3]), 0, -4, "#000", 1),
        {
          type: "scatter", xAxisIndex: 1, yAxisIndex: 1, symbol: "triangle", symbolSize: [10, 9],
          data: [...V2_POINTS, ...V2_POINTS_CORE], silent: true,
          itemStyle: { color: "rgba(0,0,0,0)", borderColor: "#000", borderWidth: 1.2 },
          z: 2,
        },
        {
          type: "line", xAxisIndex: 1, yAxisIndex: 1, symbol: "none", silent: true,
          data: zip(POWER_R, POWER_T),
          lineStyle: { color: "#777", width: 3, type: [7, 5] },
          z: 3,
        },
        {
          type: "custom", xAxisIndex: 1, yAxisIndex: 1, silent: true, clip: false, z: 4,
          data: [[ZANK2012_EXT_R[1], ZANK2012_EXT_T[1]]],
          renderItem: (_p: any, api: any) => ({
            type: "polyline",
            shape: { points: ZANK2012_EXT_R.map((r, i) => api.coord([r, ZANK2012_EXT_T[i]])) },
            style: { stroke: "#1fb01f", lineWidth: 3, lineDash: [3, 2], fill: null },
          }),
        },
        {
          type: "line", xAxisIndex: 1, yAxisIndex: 1, symbol: "none", smooth: true, silent: true,
          data: zip(ZANK2012_R, ZANK2012_T),
          lineStyle: { color: "#1fb01f", width: 3 },
          z: 4,
        },
        {
          type: "line", xAxisIndex: 1, yAxisIndex: 1, symbol: "none", smooth: true, silent: true,
          data: zip(ZANK2017_R, ZANK2017_T),
          lineStyle: { color: "#ff1010", width: 3 },
          z: 5,
        },
        tickSeries(1, 1, minorValues([1e2, 1e3, 1e4, 1e5]).map((t) => [1, t]), 4, 0, "#444", 1),
        tickSeries(1, 1, minorValues([1e2, 1e3, 1e4, 1e5]).map((t) => [100, t]), -4, 0, "#444", 1),
        tickSeries(1, 1, minorValues([1, 10]).map((r) => [r, 1e2]), 0, -4, "#444", 1),
        tickSeries(1, 1, minorValues([1, 10]).map((r) => [r, 1e6]), 0, 4, "#444", 1),
      ],
      graphic: [
        ...legendGraphics,
        {
          type: "text", x: 27, y: 160, rotation: Math.PI / 2,
          style: { text: "Temperature, K", font: `bold 12.7px ${FONT}`, fill: "#000", align: "center", verticalAlign: "middle" },
        },
        {
          type: "text", x: 205, y: 319,
          style: { text: "Distance to the Sun, AU", font: `bold 12.7px ${FONT}`, fill: "#000", align: "center", verticalAlign: "middle" },
        },
        {
          type: "text", x: 395, y: 160, rotation: Math.PI / 2,
          style: { text: "T (K)", font: `17px ${FONT}`, fill: "#222", align: "center", verticalAlign: "middle" },
        },
        {
          type: "text", x: 622, y: 339,
          style: { text: "R (AU)", font: `17px ${FONT}`, fill: "#222", align: "center", verticalAlign: "middle" },
        },
        { type: "line", shape: { x1: 452, y1: 250, x2: 477, y2: 250 }, style: { stroke: "#1fb01f", lineWidth: 3 }, z: 20 },
        { type: "line", shape: { x1: 452, y1: 268, x2: 477, y2: 268 }, style: { stroke: "#ff1010", lineWidth: 3 }, z: 20 },
        {
          type: "polygon", shape: { points: [[475, 280], [479.5, 288], [470.5, 288]] },
          style: { stroke: "#000", lineWidth: 1, fill: "none" }, z: 20,
        },
        {
          type: "text", x: 496, y: 250,
          style: { text: "Zank 2012 model (incomp. MHD)", font: `14px ${FONT}`, fill: "#222", verticalAlign: "middle" },
        },
        {
          type: "text", x: 496, y: 268,
          style: { text: "Zank 2017 model (NI MHD)", font: `14px ${FONT}`, fill: "#222", verticalAlign: "middle" },
        },
        {
          type: "text", x: 496, y: 285,
          style: { text: "V2 data", font: `14px ${FONT}`, fill: "#222", verticalAlign: "middle" },
        },
        {
          type: "text", x: 722, y: 277,
          style: { text: "R", font: `15px ${FONT}`, fill: "#222", verticalAlign: "middle" },
        },
        {
          type: "text", x: 733, y: 270,
          style: { text: "-4/3", font: `8.5px ${FONT}`, fill: "#222", verticalAlign: "middle" },
        },
      ],
    };

    chart.setOption(option);
    return () => chart.dispose();
  }, []);

  return <div ref={ref} style={{ width: 830, height: 348 }} />;
}
